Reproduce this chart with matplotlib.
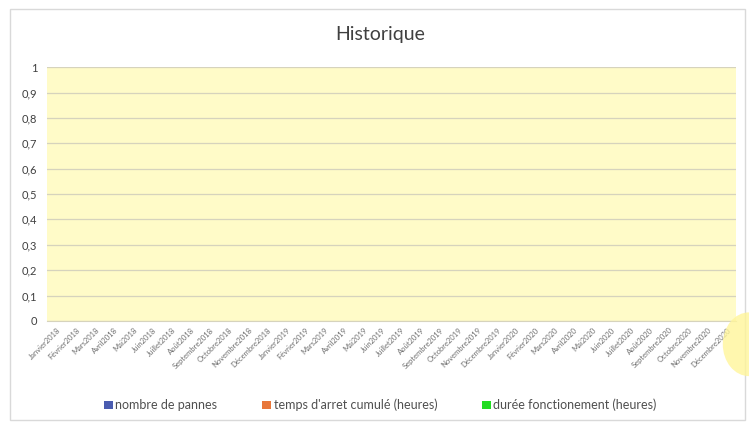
import matplotlib.pyplot as plt
from matplotlib.patches import Rectangle, Ellipse
import numpy as np

plt.rcParams['font.family'] = ['Lato', 'DejaVu Sans']

# mois (36 catégories, aucune donnée saisie)
mois_noms = ["Janvier", "Février", "Mars", "Avril", "Mai", "Juin", "Juillet",
             "Août", "Septembre", "Octobre", "Novembre", "Décembre"]
annees = [2018, 2019, 2020]
categories = [f"{m}{a}" for a in annees for m in mois_noms]

nombre_pannes = [0] * len(categories)
temps_arret = [0] * len(categories)
duree_fonctionnement = [0] * len(categories)

y_ticks = [0, 0.1, 0.2, 0.3, 0.4, 0.5, 0.6, 0.7, 0.8, 0.9, 1]

fig = plt.figure(figsize=(7.49, 4.25), dpi=100)
fig.patch.set_facecolor("white")

# cadre du graphique
fig.patches.append(Rectangle((0.013, 0.012), 0.982, 0.968, transform=fig.transFigure,
                             fill=False, edgecolor="#d9d9d9", lw=1))

ax = fig.add_axes([0.063, 0.245, 0.920, 0.597])
ax.set_facecolor("#fffbc8")

x = np.arange(len(categories))
w = 0.25
ax.bar(x - w, nombre_pannes, w, color="#4a5cb0", label="nombre de pannes")
ax.bar(x, temps_arret, w, color="#e8773a", label="temps d'arret cumulé (heures)")
ax.bar(x + w, duree_fonctionnement, w, color="#22dd22", label="durée fonctionement (heures)")

ax.set_xlim(-0.5, len(categories) - 0.5)
ax.set_ylim(0, 1)
ax.set_yticks(y_ticks)
ax.set_yticklabels([f"{v:g}".replace(".", ",") for v in y_ticks], fontsize=8, color="#404040")
ax.grid(axis="y", color="#d6d3bd", lw=0.9)
ax.set_axisbelow(True)
ax.set_xticks(x)
ax.set_xticklabels(categories, rotation=45, ha="right", rotation_mode="anchor",
                   fontsize=5.5, color="#707070")
ax.tick_params(axis="y", length=0, pad=7)
ax.tick_params(axis="x", length=0, pad=4)
for s in ["top", "right", "left"]:
    ax.spines[s].set_visible(False)
ax.spines["bottom"].set_color("#d6d3bd")

fig.text(0.508, 0.918, "Historique", ha="center", va="center", fontsize=14, color="#404040")

fig.legend(loc="center", bbox_to_anchor=(0.508, 0.047), ncol=3, frameon=False,
           fontsize=9, handlelength=0.7, handleheight=0.7, handletextpad=0.2,
           columnspacing=3.6, labelcolor="#505050")

# surbrillance du curseur visible à droite
fig.patches.append(Ellipse((1.0, 0.19), 0.07, 0.15, transform=fig.transFigure,
                           facecolor="#fff59a", edgecolor="none", alpha=0.8))

fig.savefig("out.png", dpi=100)
